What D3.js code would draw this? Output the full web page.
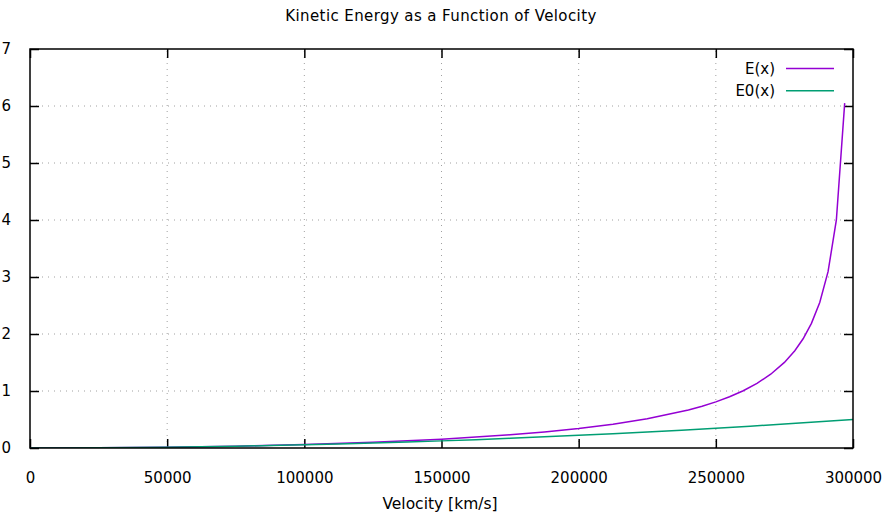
<!DOCTYPE html>
<html><head><meta charset="utf-8">
<script src="https://cdn.jsdelivr.net/npm/d3@7"></script>
<style>body{margin:0;background:#fff}text{font-family:"DejaVu Sans",sans-serif;fill:#000}</style>
</head><body>
<svg id="c" width="885" height="515"></svg>
<script>
const title = "Kinetic Energy as a Function of Velocity";
const xLabel = "Velocity [km/s]";
const xTicks = [0, 50000, 100000, 150000, 200000, 250000, 300000];
const yTicks = [0, 1, 2, 3, 4, 5, 6, 7];
const seriesNames = ["E(x)", "E0(x)"];
const seriesColors = ["#9400d3", "#009e73"];
const eVel = [0, 25000, 50000, 75000, 100000, 125000, 150000, 175000, 187500, 200000, 212500, 225000, 240000, 245000, 250000, 255000, 260000, 265000, 270000, 275000, 278788, 281818, 284848, 287879, 290909, 293939, 296970];
const eVal = [0, 0.0035, 0.0142, 0.0328, 0.0607, 0.1000, 0.1547, 0.2312, 0.2810, 0.3416, 0.4167, 0.5119, 0.6667, 0.7328, 0.8091, 0.8983, 1.0045, 1.1334, 1.2942, 1.5022, 1.7075, 1.9168, 2.1868, 2.5539, 3.0931, 4.0005, 6.05];
const e0Vel = [0, 12500, 25000, 37500, 50000, 62500, 75000, 87500, 100000, 112500, 125000, 137500, 150000, 162500, 175000, 187500, 200000, 212500, 225000, 237500, 250000, 262500, 275000, 287500, 300000];
const e0Val = [0, 0.00087, 0.00347, 0.00781, 0.01389, 0.0217, 0.03125, 0.04253, 0.05556, 0.07031, 0.08681, 0.10503, 0.125, 0.1467, 0.17014, 0.19531, 0.22222, 0.25087, 0.28125, 0.31337, 0.34722, 0.38281, 0.42014, 0.4592, 0.5];

const L = 30, R = 853, T = 49, B = 448;
const svg = d3.select("#c");
const x = d3.scaleLinear().domain([0, 300000]).range([L, R]);
const y = d3.scaleLinear().domain([0, 7]).range([B, T]);

// grid
const g = svg.append("g");
g.selectAll("line.gx").data(xTicks.slice(1, -1)).join("line")
  .attr("x1", d => x(d)).attr("x2", d => x(d)).attr("y1", B).attr("y2", T)
  .attr("stroke", "#a0a0a0").attr("stroke-width", 1).attr("stroke-dasharray", "1,5");
g.selectAll("line.gy").data(yTicks.slice(1, -1)).join("line")
  .attr("y1", d => y(d)).attr("y2", d => y(d)).attr("x1", L).attr("x2", R)
  .attr("stroke", "#a0a0a0").attr("stroke-width", 1).attr("stroke-dasharray", "1,5");

// axes with inward ticks
const fs = "15px";
const ax = svg.append("g").attr("transform", `translate(0,${B})`)
  .call(d3.axisBottom(x).tickValues(xTicks).tickSize(-9).tickPadding(19).tickFormat(d3.format("d")));
const ax2 = svg.append("g").attr("transform", `translate(0,${T})`)
  .call(d3.axisTop(x).tickValues(xTicks).tickSize(-9).tickFormat(""));
const ay = svg.append("g").attr("transform", `translate(${L},0)`)
  .call(d3.axisLeft(y).tickValues(yTicks).tickSize(-9).tickPadding(19).tickFormat(d3.format("d")));
const ay2 = svg.append("g").attr("transform", `translate(${R},0)`)
  .call(d3.axisRight(y).tickValues(yTicks).tickSize(-9).tickFormat(""));
[ax, ax2, ay, ay2].forEach(a => {
  a.select(".domain").remove();
  a.selectAll(".tick line").attr("stroke", "#000").attr("stroke-width", 1.5);
  a.selectAll("text").style("font-family", '"DejaVu Sans",sans-serif').style("font-size", fs).attr("fill", "#000");
});
ax.selectAll(".tick text").attr("dy", "1.05em");

// lines
svg.append("clipPath").attr("id", "clip").append("rect").attr("x", L).attr("y", T).attr("width", R - L).attr("height", B - T);
const line = d3.line().x(d => x(d[0])).y(d => y(d[1]));
const series = [d3.zip(eVel, eVal), d3.zip(e0Vel, e0Val)];
series.forEach((s, i) => {
  svg.append("path").datum(s).attr("d", line).attr("fill", "none")
    .attr("stroke", seriesColors[i]).attr("stroke-width", 1.5).attr("clip-path", "url(#clip)");
});

// border
svg.append("rect").attr("x", L).attr("y", T).attr("width", R - L).attr("height", B - T)
  .attr("fill", "none").attr("stroke", "#000").attr("stroke-width", 1.5);

// legend
seriesNames.forEach((n, i) => {
  const ly = 68.5 + i * 22.3;
  svg.append("text").attr("x", 775).attr("y", ly).attr("dy", "0.35em").attr("text-anchor", "end")
    .style("font-size", fs).text(n);
  svg.append("line").attr("x1", 786).attr("x2", 834).attr("y1", ly).attr("y2", ly)
    .attr("stroke", seriesColors[i]).attr("stroke-width", 1.5);
});

// title and axis label
svg.append("text").attr("x", 441).attr("y", 21).attr("text-anchor", "middle")
  .style("font-size", "15px").style("letter-spacing", "0.4px").text(title);
svg.append("text").attr("x", 440).attr("y", 509).attr("text-anchor", "middle").style("font-size", "15.5px").text(xLabel);
</script>
</body></html>
